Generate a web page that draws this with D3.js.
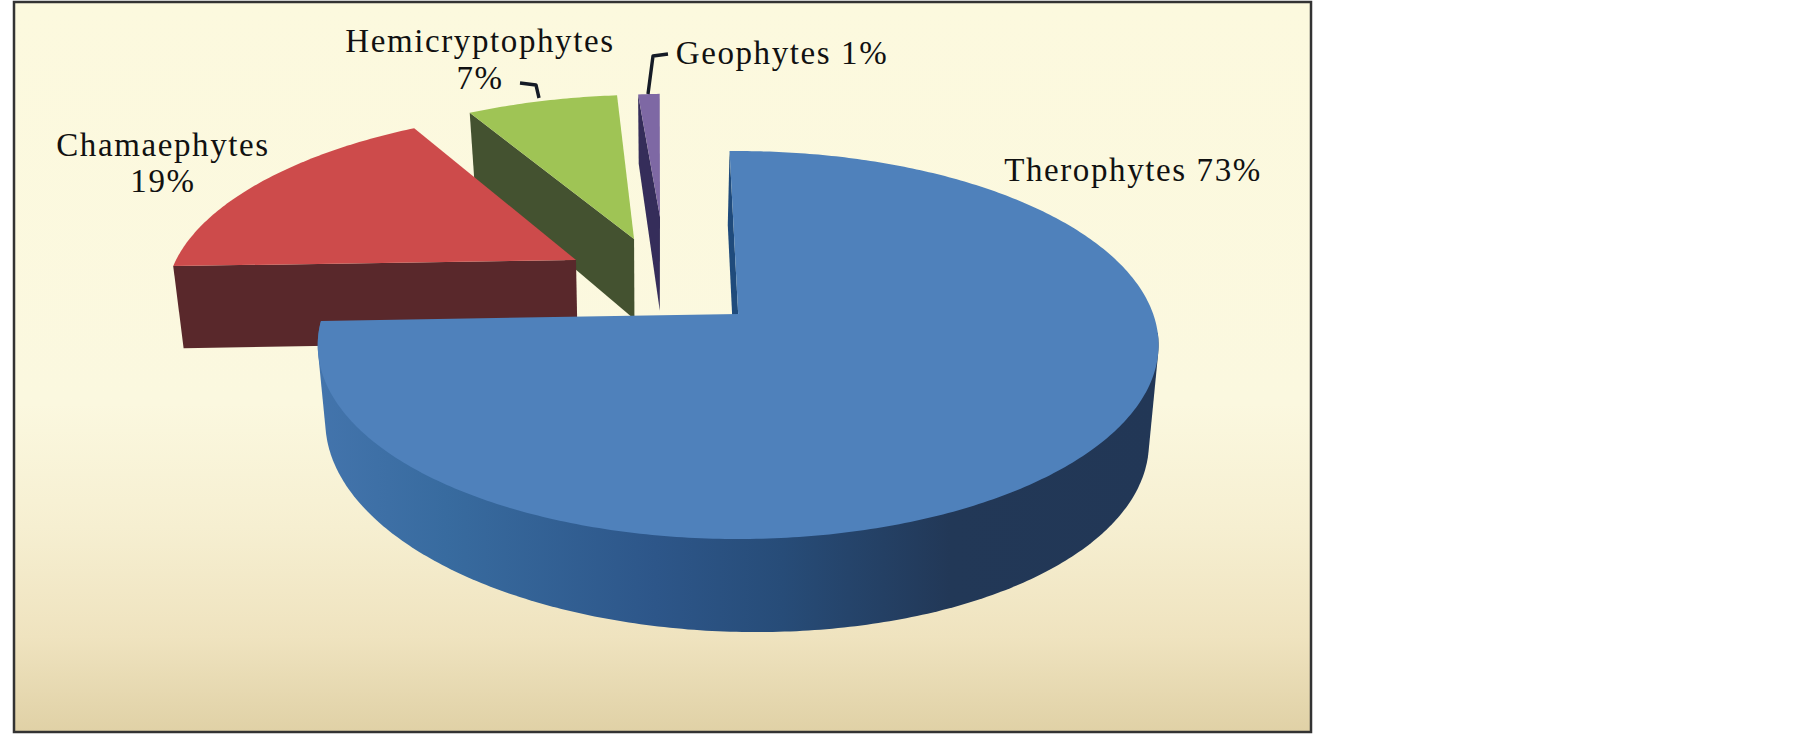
<!DOCTYPE html>
<html><head><meta charset="utf-8">
<script src="https://cdn.jsdelivr.net/npm/d3@7"></script>
<style>html,body{margin:0;padding:0;background:#fff}svg{display:block}
text{font-family:"Liberation Serif","Times New Roman",serif;font-size:33px;letter-spacing:1.6px;fill:#111}</style>
</head><body><svg id="c" width="1805" height="734"></svg>
<script>
// ---- data ----
const categories = ["Therophytes", "Chamaephytes", "Hemicryptophytes", "Geophytes"];
const shares = [73, 19, 7, 1];

// ---- styles ----
const topColors = ["#4f81bb", "#cd4b4b", "#9fc455", "#7e68a4"];
const wallColors = ["#1f4b7c", "#59282b", "#445230", "#352d5a"];

// ---- layout: 3D view and how far each slice is pulled out ----
const view = {X0:739, Y0:314, A:415, D:189, p:0.16};
const explode = [
  {du:-0.002, dv:0, k:1, fix:[-1.4, 5.1], extra:0, tilt:8},
  {du:-0.4116, dv:-0.2994, k:1.01, fix:[5.2, -2.0], extra:0, tilt:0},
  {du:-0.270, dv:-0.4237, k:1, fix:[-2.0, -1.6], extra:0, tilt:0},
  {du:-0.2074, dv:-0.559, k:0.873, fix:[-2.4, -1.8], extra:15, tilt:0}
];
const labelLayout = [
  {lines:l=>[l.n+" "+l.v+"%"], x:1133, y:[181]},
  {lines:l=>[l.n, l.v+"%"], x:163, y:[156,192]},
  {lines:l=>[l.n, l.v+"%"], x:480, y:[52,89]},
  {lines:l=>[l.n+" "+l.v+"%"], x:782, y:[64]}
];
const leaders = [null, null,
  [[539,98],[536,85],[520,83]],
  [[648,94],[653,56],[668,54]]];

const svg = d3.select("#c");
const defs = svg.append("defs");
const bg = defs.append("linearGradient").attr("id","bg").attr("x1",0).attr("x2",0).attr("y1",0).attr("y2",1);
[[0,"#fcf9de"],[0.55,"#fbf8df"],[0.72,"#f6efd1"],[0.87,"#efe3bf"],[1,"#e0d1a6"]].forEach(s=>bg.append("stop").attr("offset",s[0]).attr("stop-color",s[1]));
const side = defs.append("linearGradient").attr("id","side").attr("gradientUnits","userSpaceOnUse")
  .attr("x1",320).attr("x2",1160).attr("y1",0).attr("y2",0);
[[0,"#4374ac"],[0.15,"#386b9f"],[0.4,"#2d5689"],[0.55,"#274c78"],[0.75,"#223857"],[1,"#223756"]].forEach(s=>side.append("stop").attr("offset",s[0]).attr("stop-color",s[1]));

svg.append("rect").attr("x",14).attr("y",2).attr("width",1297).attr("height",730)
  .attr("fill","url(#bg)").attr("stroke","#333").attr("stroke-width",2.5);

function project(u,v,low,tilt){
  const w = 1 - view.p*v;
  let X = view.X0 + view.A*u/w;
  let Y = view.Y0 + view.D*v/w;
  if(low){
    X += -8.75*u - 2 + (v>0 ? 6*v : 0);
    Y += (v>0 ? 85+8*v : 85+11*v) + (tilt||0)*u;
  }
  return [X,Y];
}
const line = d3.line();
const arcs = d3.pie().sort(null).value(d=>d)(shares);
const rad = d => d*Math.PI/180;
const at=(t,e,low)=>project(e.du+e.k*Math.sin(t), e.dv-e.k*Math.cos(t), low, e.tilt);
const centre=(e,low)=>{const p=project(e.du,e.dv,low,e.tilt); if(low)p[1]+=e.extra; return p;};
function rim(a,e,low){
  const t0=a.startAngle+rad(e.fix[0]), t1=a.endAngle+rad(e.fix[1]);
  const N=Math.max(6,Math.ceil((t1-t0)*80));
  return d3.range(N+1).map(i=>at(t0+(t1-t0)*i/N,e,low));
}

// back to front
[3,2,1,0].forEach(i=>{
  const a=arcs[i], e=explode[i];
  const g=svg.append("g");
  const t0=a.startAngle+rad(e.fix[0]);
  if(i===0){
    // the outer wall: only the front part of the rim shows, so its hull is the whole silhouette
    const front={startAngle:rad(97),endAngle:a.endAngle};
    const hull=d3.polygonHull([...rim(front,e,false),...rim(front,e,true)]);
    g.append("path").attr("d",line(hull)+"Z").attr("fill","url(#side)");
  }
  g.append("path").attr("d",line([centre(e,false),at(t0,e,false),at(t0,e,true),centre(e,true)])+"Z").attr("fill",wallColors[i]);
  g.append("path").attr("d",line([centre(e,false),...rim(a,e,false)])+"Z").attr("fill",topColors[i]);
});

leaders.forEach(p=>{ if(p) svg.append("path").attr("d",line(p)).attr("fill","none").attr("stroke","#151b26").attr("stroke-width",3.4).attr("stroke-linejoin","round"); });

labelLayout.forEach((l,i)=>{
  l.lines({n:categories[i],v:shares[i]}).forEach((s,j)=>{
    svg.append("text").attr("x",l.x).attr("y",l.y[j]).attr("text-anchor","middle").text(s);
  });
});
</script></body></html>
